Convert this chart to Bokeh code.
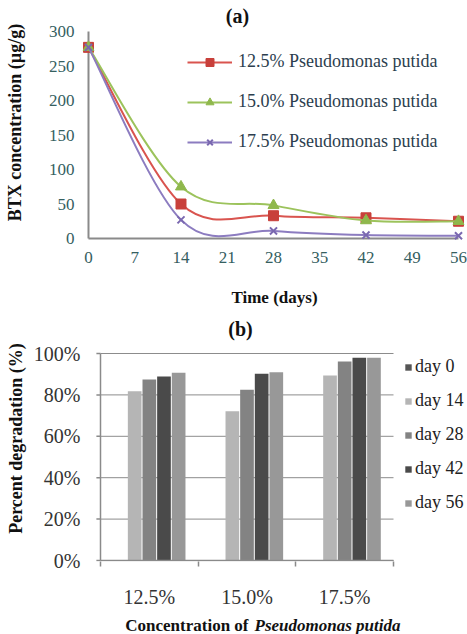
from bokeh.plotting import figure
from bokeh.models import Range1d, Legend, LegendItem, Label, FixedTicker
from bokeh.layouts import column
from bokeh.embed import file_html
from bokeh.resources import INLINE

# ---------------- data: panel (a) ----------------
days = [0, 14, 28, 42, 56]
time_ticks = [0, 7, 14, 21, 28, 35, 42, 49, 56]
btx_ticks = [0, 50, 100, 150, 200, 250, 300]
series_names = ["12.5% Pseudomonas putida", "15.0% Pseudomonas putida", "17.5% Pseudomonas putida"]
btx_125 = [277, 50, 33, 30, 25]
btx_150 = [277, 75, 48, 26, 25]
btx_175 = [277, 27, 11, 5, 4]

# ---------------- data: panel (b) ----------------
concentrations = ["12.5%", "15.0%", "17.5%"]
day_labels = ["day 0", "day 14", "day 28", "day 42", "day 56"]
deg_day0 = [0, 0, 0]
deg_day14 = [81.8, 72.1, 89.4]
deg_day28 = [87.4, 82.5, 96.1]
deg_day42 = [88.9, 90.2, 97.9]
deg_day56 = [90.7, 91.0, 97.9]
pct_ticks = [0, 20, 40, 60, 80, 100]

SERIF = "Liberation Serif"
TEAL = "#35605f"
AXIS_GREY = "#8a8a8a"
W = 467
BL, BR = 82, 1   # common left / right borders so the column keeps frames aligned


def smooth_segments(xs, ys):
    """Excel-like smoothed line: cubic Bezier pieces with tension 1/6."""
    n = len(xs)
    seg = dict(x0=[], y0=[], x1=[], y1=[], cx0=[], cy0=[], cx1=[], cy1=[])
    for i in range(n - 1):
        xp, yp = (xs[i - 1], ys[i - 1]) if i > 0 else (xs[i], ys[i])
        xn, yn = (xs[i + 2], ys[i + 2]) if i + 2 < n else (xs[i + 1], ys[i + 1])
        seg["x0"].append(xs[i]); seg["y0"].append(ys[i])
        seg["x1"].append(xs[i + 1]); seg["y1"].append(ys[i + 1])
        seg["cx0"].append(xs[i] + (xs[i + 1] - xp) / 6.0)
        seg["cy0"].append(ys[i] + (ys[i + 1] - yp) / 6.0)
        seg["cx1"].append(xs[i + 1] - (xn - xs[i]) / 6.0)
        seg["cy1"].append(ys[i + 1] - (yn - ys[i]) / 6.0)
    return seg


# ======================= panel (a) =======================
pa = figure(width=W, height=315, output_backend="svg", toolbar_location=None,
            x_range=Range1d(-0.908, 57.211), y_range=Range1d(-8.696, 344.93),
            min_border_left=BL, min_border_right=BR, min_border_top=0, min_border_bottom=71)
pa.outline_line_color = None
pa.grid.visible = False
pa.xaxis.ticker = FixedTicker(ticks=time_ticks)
pa.yaxis.ticker = FixedTicker(ticks=btx_ticks)
for ax in (pa.xaxis[0], pa.yaxis[0]):
    ax.axis_line_color = None
    ax.major_tick_line_color = None
    ax.minor_tick_line_color = None
    ax.major_tick_out = 0
    ax.major_tick_in = 0
    ax.major_label_text_font = SERIF
    ax.major_label_text_font_size = "17px"
    ax.major_label_text_color = TEAL
    ax.axis_label_text_font = SERIF
    ax.axis_label_text_font_style = "bold"
    ax.axis_label_text_color = "#111111"
pa.xaxis.axis_label = "Time (days)"
pa.yaxis.axis_label = "BTX concentration (µg/g)"
pa.xaxis.axis_label_text_font_size = "17px"
pa.yaxis.axis_label_text_font_size = "18px"
pa.xaxis.major_label_standoff = 7
pa.xaxis.axis_label_standoff = 22
pa.yaxis.major_label_standoff = 8
pa.yaxis.axis_label_standoff = 21

# axis lines drawn over the tick extents
pa.segment(x0=[time_ticks[0]], y0=[btx_ticks[0]], x1=[time_ticks[-1]], y1=[btx_ticks[0]],
           line_color=AXIS_GREY, line_width=2)
pa.segment(x0=[time_ticks[0]], y0=[btx_ticks[0]], x1=[time_ticks[0]], y1=[btx_ticks[-1]],
           line_color=AXIS_GREY, line_width=2)

styles = [
    dict(vals=btx_125, line="#d9544f", fill="#c8403b", marker="square", size=10),
    dict(vals=btx_150, line="#9cc35c", fill="#8fb84c", marker="triangle", size=11),
    dict(vals=btx_175, line="#8c7cc0", fill="#7a68b0", marker="x", size=10),
]
items = []
for name, st in zip(series_names, styles):
    seg = smooth_segments(days, st["vals"])
    bz = pa.bezier(source=seg, x0="x0", y0="y0", x1="x1", y1="y1",
                   cx0="cx0", cy0="cy0", cx1="cx1", cy1="cy1",
                   line_color=st["line"], line_width=2)
    if st["marker"] == "x":
        sc = pa.scatter(days, st["vals"], marker="x", size=st["size"],
                        line_color=st["fill"], line_width=2)
    else:
        sc = pa.scatter(days, st["vals"], marker=st["marker"], size=st["size"],
                        fill_color=st["fill"], line_color=st["fill"])
    items.append(LegendItem(label=name, renderers=[bz, sc]))

legend_a = Legend(items=items, location=(105, 92))
legend_a.background_fill_alpha = 0
legend_a.border_line_color = None
legend_a.padding = 0
legend_a.margin = 0
legend_a.spacing = 19
legend_a.glyph_width = 45
legend_a.glyph_height = 20
legend_a.label_height = 20
legend_a.label_standoff = 6
legend_a.label_text_font = SERIF
legend_a.label_text_font_size = "18px"
legend_a.label_text_color = "#2c3e4e"
pa.add_layout(legend_a)

pa.add_layout(Label(x=155, y=229, x_units="screen", y_units="screen", text="(a)",
                    text_font=SERIF, text_font_style="bold", text_font_size="20px",
                    text_align="center", text_baseline="middle", text_color="#111111"))

# ======================= panel (b) =======================
n_cat = len(concentrations)
pb = figure(width=W, height=298, output_backend="svg", toolbar_location=None,
            x_range=Range1d(-0.1843, 3.7474), y_range=Range1d(-0.483, 118.36),
            min_border_left=BL, min_border_right=BR, min_border_top=0, min_border_bottom=52)
pb.outline_line_color = None
pb.grid.visible = False
pb.yaxis.ticker = FixedTicker(ticks=pct_ticks)
pb.yaxis.major_label_overrides = {t: f"{t}%" for t in pct_ticks}
centers = [i + 0.5 for i in range(n_cat)]
bounds = list(range(n_cat + 1))
pb.xaxis.ticker = FixedTicker(ticks=centers, minor_ticks=bounds)
pb.xaxis.major_label_overrides = {c: lab for c, lab in zip(centers, concentrations)}
for ax in (pb.xaxis[0], pb.yaxis[0]):
    ax.axis_line_color = None
    ax.major_tick_line_color = None
    ax.major_tick_out = 0
    ax.major_tick_in = 0
    ax.major_label_text_font = SERIF
    ax.major_label_text_font_size = "20px"
    ax.major_label_text_color = "#333333"
    ax.axis_label_text_font = SERIF
    ax.axis_label_text_font_style = "bold"
    ax.axis_label_text_font_size = "18px"
    ax.axis_label_text_color = "#111111"
pb.xaxis.minor_tick_line_color = AXIS_GREY
pb.xaxis.minor_tick_line_width = 1.5
pb.xaxis.minor_tick_out = 5
pb.xaxis.minor_tick_in = 0
pb.xaxis.major_label_standoff = 19
pb.yaxis.minor_tick_line_color = None
pb.yaxis.major_label_standoff = 2
pb.yaxis.axis_label = "Percent degradation (%)"
pb.yaxis.axis_label_standoff = 5

# horizontal grid lines across the category span, plus small outer ticks
tick_len = 0.042
pb.segment(x0=[bounds[0]] * len(pct_ticks), y0=pct_ticks, x1=[bounds[-1]] * len(pct_ticks), y1=pct_ticks,
           line_color="#8c8c8c", line_width=1)
pb.segment(x0=[bounds[0] - tick_len] * len(pct_ticks), y0=pct_ticks, x1=[bounds[0]] * len(pct_ticks),
           y1=pct_ticks, line_color=AXIS_GREY, line_width=1.5)

bar_series = [deg_day0, deg_day14, deg_day28, deg_day42, deg_day56]
bar_colors = ["#555555", "#b5b5b5", "#838383", "#4a4a4a", "#989898"]
offsets = [-0.30, -0.15, 0.0, 0.15, 0.30]
bitems = []
for lab, vals, col, off in zip(day_labels, bar_series, bar_colors, offsets):
    r = pb.vbar(x=[c + off for c in centers], top=vals, bottom=0, width=0.14,
                fill_color=col, line_color=None)
    bitems.append(LegendItem(label=lab, renderers=[r]))

# axes lines over the category / percent span
pb.segment(x0=[bounds[0]], y0=[pct_ticks[0]], x1=[bounds[-1]], y1=[pct_ticks[0]],
           line_color=AXIS_GREY, line_width=1.5)
pb.segment(x0=[bounds[0]], y0=[pct_ticks[0]], x1=[bounds[0]], y1=[pct_ticks[-1]],
           line_color=AXIS_GREY, line_width=1.5)

legend_b = Legend(items=bitems, location=(322, 48))
legend_b.background_fill_alpha = 0
legend_b.border_line_color = None
legend_b.padding = 0
legend_b.margin = 0
legend_b.spacing = 13
legend_b.glyph_width = 8
legend_b.glyph_height = 8
legend_b.label_height = 20
legend_b.label_standoff = 3
legend_b.label_text_font = SERIF
legend_b.label_text_font_size = "18px"
legend_b.label_text_color = "#222222"
pb.add_layout(legend_b)

pb.add_layout(Label(x=158, y=233, x_units="screen", y_units="screen", text="(b)",
                    text_font=SERIF, text_font_style="bold", text_font_size="20px",
                    text_align="center", text_baseline="middle", text_color="#111111"))

# ======================= x label of panel (b), mixed styles =======================
pc = figure(width=W, height=21, output_backend="svg", toolbar_location=None,
            x_axis_type=None, y_axis_type=None,
            min_border_left=BL, min_border_right=BR, min_border_top=0, min_border_bottom=0)
pc.outline_line_color = None
pc.add_layout(Label(x=166, y=9, x_units="screen", y_units="screen", text="Concentration of",
                    text_font=SERIF, text_font_style="bold", text_font_size="17px",
                    text_align="right", text_baseline="middle", text_color="#111111"))
pc.add_layout(Label(x=172, y=9, x_units="screen", y_units="screen", text="Pseudomonas putida",
                    text_font=SERIF, text_font_style="bold italic", text_font_size="17px",
                    text_align="left", text_baseline="middle", text_color="#111111"))

layout = column(pa, pb, pc, spacing=0)
open("out.html", "w").write(file_html(layout, INLINE))
